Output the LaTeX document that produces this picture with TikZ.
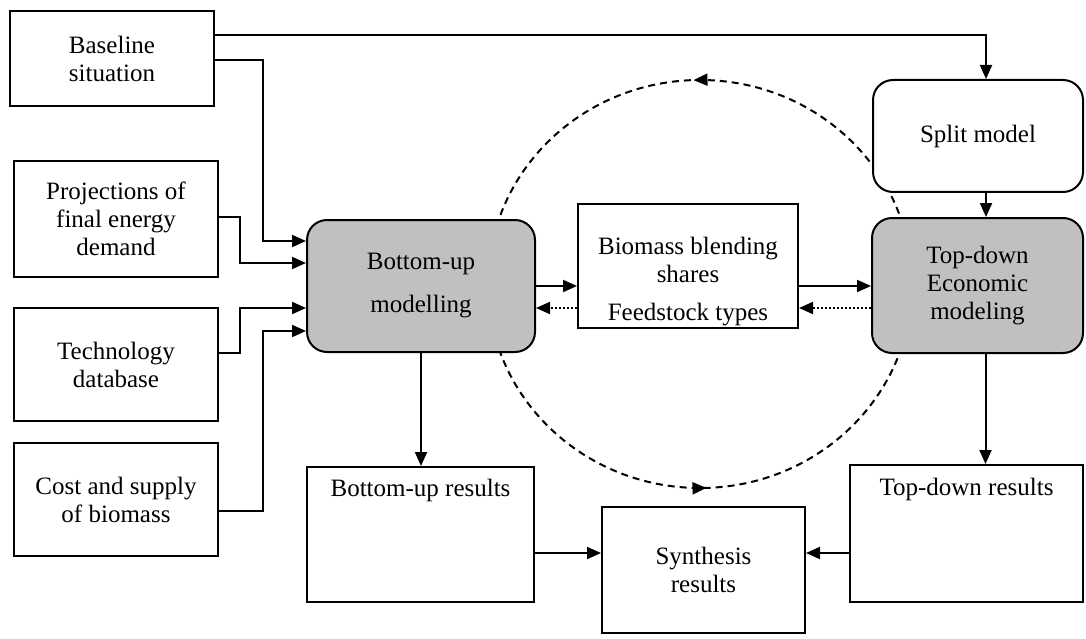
\documentclass[tikz,border=0pt]{standalone}
\usepackage{fontspec}
\setmainfont{Liberation Serif}
\usetikzlibrary{arrows.meta,decorations.markings}
\definecolor{boxgray}{RGB}{192,192,192}
\begin{document}
\begin{tikzpicture}[x=1pt,y=-1pt,line width=2pt,font=\fontsize{25}{28}\selectfont]
\tikzstyle{box}=[draw,fill=white,inner sep=0pt,align=center]
\tikzstyle{model}=[box,rounded corners=20pt]
\tikzstyle{txt}=[inner sep=0pt,align=center]
\tikzstyle{arr}=[-{Triangle[length=14pt,width=12pt]}]
\tikzstyle{back}=[arr,dash pattern=on 2pt off 2pt]
\useasboundingbox (0,0) rectangle (1086,639);
% the loop between the models
\draw[dash pattern=on 7pt off 5pt,postaction={decorate},
  decoration={markings,
    mark=at position 0.255 with {\arrow{Triangle[length=14pt,width=12pt]}},
    mark=at position 0.755 with {\arrow{Triangle[length=14pt,width=12pt]}}}]
  (700,284) ellipse [x radius=212pt,y radius=204pt];
% inputs
\node[box,minimum width=204pt,minimum height=95pt] (base) at (112,58.5) {Baseline\\situation};
\node[box,minimum width=204pt,minimum height=116pt] (proj) at (116,219) {Projections of\\final energy\\demand};
\node[box,minimum width=204pt,minimum height=113pt] (tech) at (116,364.5) {Technology\\database};
\node[box,minimum width=204pt,minimum height=113pt] (cost) at (116,499.5) {Cost and supply\\of biomass};
% models
\node[model,fill=boxgray,minimum width=228pt,minimum height=132pt] (bu) at (421,286) {Bottom-up\\[15pt]modelling};
\node[box,minimum width=220pt,minimum height=124pt] (bm) at (688,266) {};
\node[txt] (bmtxt) at ([yshift=-79pt]bm.north) {Biomass blending\\shares\\[10pt]Feedstock types};
\node[model,minimum width=210pt,minimum height=112pt] (split) at (978,136) {Split model};
\node[model,fill=boxgray,minimum width=211pt,minimum height=135pt] (td) at (977.5,285.5) {Top-down\\Economic\\modeling};
% results
\node[box,minimum width=227pt,minimum height=135pt] (bur) at (420.5,534.5) {};
\node[txt] (burtxt) at ([yshift=-24pt]bur.north) {Bottom-up results};
\node[box,minimum width=233pt,minimum height=137pt] (tdr) at (966.5,533.5) {};
\node[txt] (tdrtxt) at ([yshift=-25pt]tdr.north) {Top-down results};
\node[box,minimum width=203pt,minimum height=126pt] (syn) at (703.5,570) {Synthesis\\results};
% connectors
\coordinate (kA) at (263,0);
\coordinate (kB) at (240,0);
\draw[arr] ([yshift=23.5pt]base.east) -| ([xshift=8pt]split.north);
\draw[arr] ([yshift=-1.5pt]base.east) -| ([yshift=45pt]bu.west -| kA) -- ([yshift=45pt]bu.west);
\draw[arr] ([yshift=2pt]proj.east) -| ([yshift=23pt]bu.west -| kB) -- ([yshift=23pt]bu.west);
\draw[arr] ([yshift=11.5pt]tech.east) -| ([yshift=-22pt]bu.west -| kB) -- ([yshift=-22pt]bu.west);
\draw[arr] ([yshift=-11.5pt]cost.east) -| ([yshift=-45pt]bu.west -| kA) -- ([yshift=-45pt]bu.west);
\draw[arr] (bu.east) -- (bu.east -| bm.west);
\draw[back] ([yshift=-22pt]bu.east -| bm.west) -- ([yshift=-22pt]bu.east);
\draw[arr] (bu.east -| bm.east) -- (bu.east -| td.west);
\draw[back] ([yshift=-22pt]bu.east -| td.west) -- ([yshift=-22pt]bu.east -| bm.east);
\draw[arr] ([xshift=8pt]split.south) -- ([xshift=8pt]split.south |- td.north);
\draw[arr] (bu.south) -- (bu.south |- bur.north);
\draw[arr] ([xshift=8pt]td.south) -- ([xshift=8pt]td.south |- tdr.north);
\draw[arr] ([yshift=-18.5pt]bur.east) -- ([yshift=-18.5pt]bur.east -| syn.west);
\draw[arr] ([yshift=-18.5pt]bur.east -| tdr.west) -- ([yshift=-18.5pt]bur.east -| syn.east);
\end{tikzpicture}
\end{document}
